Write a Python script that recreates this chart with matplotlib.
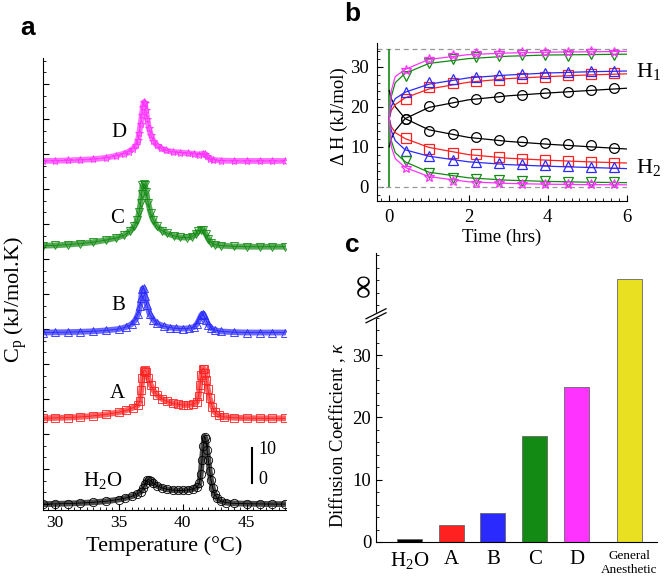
import matplotlib
matplotlib.use('Agg')
import matplotlib.pyplot as plt
from matplotlib.ticker import MultipleLocator, NullFormatter

plt.rcParams['font.family'] = ['Liberation Serif', 'DejaVu Serif']
plt.rcParams['mathtext.fontset'] = 'custom'
plt.rcParams['mathtext.rm'] = 'Liberation Serif'
plt.rcParams['mathtext.it'] = 'Liberation Serif:italic'

# ---- panel a: heat capacity profiles ----
t_h2o = [29.1, 30, 31, 32, 33, 34, 35, 35.5, 36, 36.4, 36.7, 36.9, 37.05, 37.2, 37.35, 37.5, 37.7, 38.0,
         38.4, 38.8, 39.2, 39.6, 40.0, 40.4, 40.8, 41.1, 41.3, 41.4, 41.5, 41.6, 41.7, 41.8, 41.9, 42.0,
         42.1, 42.2, 42.35, 42.5, 42.7, 43.0, 43.4, 44, 45, 46, 47, 48]
cp_h2o = [0, 0.05, 0.15, 0.3, 0.5, 0.8, 1.3, 1.7, 2.2, 2.8, 3.5, 4.5, 5.8, 6.8, 7.0, 6.6, 6.0, 5.2,
          4.6, 4.2, 4.0, 3.9, 3.9, 4.0, 4.3, 4.8, 6.0, 8.5, 12.5, 16.5, 19.3, 18.5, 15.5, 12.5,
          9.5, 7.0, 4.5, 2.8, 1.6, 0.8, 0.4, 0.2, 0.1, 0.05, 0, 0]

t_a = [29.1, 30, 31, 32, 33, 34, 35, 35.6, 36.1, 36.5, 36.65, 36.75, 36.85, 36.95, 37.05, 37.15, 37.3,
       37.5, 37.75, 38.0, 38.4, 38.8, 39.2, 39.6, 40.0, 40.4, 40.8, 41.1, 41.25, 41.35, 41.45, 41.55,
       41.65, 41.75, 41.85, 41.95, 42.1, 42.3, 42.5, 42.8, 43.2, 44, 45, 46, 47, 48]
cp_a = [0, 0.1, 0.2, 0.4, 0.7, 1.1, 1.7, 2.3, 3.0, 3.8, 5, 8, 11.5, 13.6, 13.8, 13.2, 11.5,
        9.5, 7.8, 6.6, 5.5, 4.8, 4.3, 4.0, 3.8, 3.8, 4.0, 4.6, 6.5, 9.5, 12.5, 14.2,
        14.2, 13, 11, 8.5, 5.8, 3.3, 1.8, 0.9, 0.4, 0.15, 0.05, 0, 0, 0]

t_b = [29.1, 30, 31, 32, 33, 34, 35, 35.6, 36.0, 36.3, 36.5, 36.65, 36.75, 36.85, 36.95, 37.05, 37.2,
       37.4, 37.7, 38.0, 38.5, 39, 39.5, 40, 40.5, 40.9, 41.1, 41.3, 41.45, 41.55, 41.65, 41.8, 42.0,
       42.2, 42.5, 43, 44, 45, 46, 47, 48]
cp_b = [0, 0.05, 0.1, 0.2, 0.35, 0.6, 1.0, 1.6, 2.4, 3.6, 5.2, 7.5, 10, 12.5, 12.6, 10.5, 7.8,
        5.4, 3.6, 2.6, 1.8, 1.4, 1.2, 1.1, 1.2, 1.6, 2.4, 3.8, 5.0, 5.4, 5.0, 3.7, 2.2,
        1.3, 0.7, 0.3, 0.1, 0, 0, 0, 0]

t_c = [29.1, 30, 31, 32, 33, 34, 34.8, 35.4, 35.9, 36.2, 36.45, 36.6, 36.7, 36.78, 36.85, 36.95, 37.05,
       37.15, 37.3, 37.5, 37.7, 38.0, 38.4, 38.8, 39.3, 39.8, 40.3, 40.7, 41.0, 41.2, 41.4, 41.6, 41.8,
       42.0, 42.2, 42.5, 43, 44, 45, 46, 47, 48]
cp_c = [0.3, 0.4, 0.6, 0.9, 1.3, 1.9, 2.5, 3.3, 4.5, 5.8, 7.5, 10, 12.5, 15, 17.5, 18, 17.5,
        15.5, 12.5, 9.5, 7.5, 5.8, 4.6, 3.8, 3.1, 2.7, 2.6, 2.8, 3.6, 4.4, 4.8, 4.8, 3.6,
        2.2, 1.2, 0.6, 0.3, 0.1, 0, 0, 0, 0]

t_d = [29.1, 30, 31, 32, 33, 34, 34.8, 35.4, 35.8, 36.1, 36.35, 36.5, 36.6, 36.7, 36.8, 36.88, 36.95,
       37.03, 37.12, 37.22, 37.35, 37.5, 37.7, 37.95, 38.3, 38.7, 39.2, 39.8, 40.4, 40.9, 41.3, 41.55,
       41.7, 41.9, 42.1, 42.4, 43, 44, 45, 46, 47, 48]
cp_d = [0, 0.05, 0.15, 0.3, 0.5, 0.9, 1.5, 2.1, 2.7, 3.5, 4.5, 6, 8, 10.5, 13, 15.5, 16.8,
        16.5, 14.5, 12, 9.5, 7.5, 5.8, 4.5, 3.6, 3.0, 2.6, 2.4, 2.2, 2.0, 1.8, 2.1,
        2.0, 1.3, 0.7, 0.3, 0.1, 0, 0, 0, 0, 0]

names_a = ['H$_2$O', 'A', 'B', 'C', 'D']

# ---- panel b: enthalpy vs time ----
t_pts = [0.42, 1.0, 1.6, 2.18, 2.77, 3.35, 3.93, 4.52, 5.1, 5.68]
h1_pink = [29.2, 31.8, 32.9, 33.5, 33.5, 33.6, 33.6, 33.6, 33.9, 33.6]
h1_green = [27.7, 31.0, 31.9, 32.3, 32.7, 32.8, 32.9, 32.7, 33.1, 32.9]
h1_blue = [23.6, 26.1, 26.8, 27.5, 27.9, 28.2, 28.3, 28.6, 28.9, 28.9]
h1_red = [22.0, 24.8, 25.8, 26.3, 26.7, 27.1, 27.5, 27.8, 28.1, 28.4]
h1_black = [17.0, 20.2, 21.2, 21.9, 22.5, 22.9, 23.3, 23.7, 24.2, 24.7]
h2_black = [17.0, 14.0, 13.2, 12.3, 11.7, 11.3, 11.0, 10.6, 10.3, 9.7]
h2_red = [12.2, 9.4, 8.5, 8.2, 7.5, 7.0, 6.7, 6.5, 6.25, 6.0]
h2_blue = [9.0, 7.7, 6.7, 6.2, 5.85, 5.6, 5.4, 5.25, 5.0, 5.0]
h2_green = [6.3, 3.3, 2.25, 1.8, 1.6, 1.4, 1.3, 1.25, 1.25, 1.2]
h2_pink = [4.75, 2.5, 1.4, 0.9, 0.85, 0.75, 0.75, 0.7, 0.6, 0.6]

t_fit = [0, 0.05, 0.15, 0.4, 1, 2, 3, 4, 5, 6]
fit_h1_pink = [17, 24, 27.5, 29.3, 31.8, 33.0, 33.4, 33.6, 33.7, 33.8]
fit_h1_green = [17, 22.5, 26, 28.3, 30.8, 32.0, 32.6, 32.9, 33.0, 33.1]
fit_h1_blue = [17, 20, 22, 23.6, 25.6, 27.2, 27.9, 28.4, 28.7, 28.9]
fit_h1_red = [17, 19, 20.5, 22.2, 24.4, 26.1, 27.0, 27.5, 27.9, 28.2]
fit_h1_black = [10, 12, 14, 17, 19.8, 21.7, 22.7, 23.4, 24.0, 24.6]
fit_h2_black = [24, 22, 20, 17, 14.2, 12.3, 11.3, 10.6, 10.0, 9.4]
fit_h2_red = [17, 15, 13.5, 12, 9.8, 8.0, 7.1, 6.6, 6.2, 5.9]
fit_h2_blue = [17, 14, 11.5, 9.2, 7.6, 6.2, 5.5, 5.1, 4.8, 4.5]
fit_h2_green = [17, 11.5, 8.5, 6.2, 3.6, 2.2, 1.6, 1.3, 1.1, 1.0]
fit_h2_pink = [17, 10, 7, 4.8, 2.5, 1.2, 0.8, 0.6, 0.5, 0.45]
h_max = 34.3

# ---- panel c: diffusion coefficient ----
labels_c = ['H$_2$O', 'A', 'B', 'C', 'D', 'General\nAnesthetic']
kappa = [0.4, 2.8, 4.7, 17.0, 24.9, 42.2]

black = 'black'
red = '#ff2020'
blue = '#2a2aff'
green = '#138a13'
pink = '#ff33ff'
yellow = '#e8e020'

fig = plt.figure(figsize=(6.64, 5.78), dpi=100)

# ================= panel a =================
ax = fig.add_axes([0.0643, 0.1176, 0.367, 0.782])
offset = 24.5
curves = [(t_h2o, cp_h2o, black, 'o'), (t_a, cp_a, red, 's'), (t_b, cp_b, blue, '^'),
          (t_c, cp_c, green, 'v'), (t_d, cp_d, pink, '*')]
for i, (tt, cc, col, mk) in enumerate(curves):
    yy = [v + i * offset for v in cc]
    ax.plot(tt, yy, color=col, lw=4.2, alpha=0.7, solid_capstyle='round')
    ax.plot(tt, yy, color=col, lw=0.6, marker=mk, ms=6, mfc='none', mec=col, mew=0.6)

label_pos = [(33.75, 6.6), (34.85, 31.7), (35.0, 56.6), (34.85, 81.7), (35.0, 106)]
for (x, y), nm in zip(label_pos, names_a):
    ax.text(x, y, nm, fontsize=15, ha='center', va='center')

# scale bar
ax.plot([45.4, 45.4], [6, 16], color='black', lw=1.5)
ax.text(45.9, 15.5, '10', fontsize=13, va='center')
ax.text(45.9, 7.0, '0', fontsize=13, va='center')

ax.set_xlim(29.05, 48.1)
ax.set_ylim(-1.7, 127.4)
ax.spines['top'].set_visible(False)
ax.spines['right'].set_visible(False)
ax.xaxis.set_major_locator(MultipleLocator(5))
ax.xaxis.set_minor_locator(MultipleLocator(0.5))
ax.yaxis.set_major_locator(MultipleLocator(10))
ax.yaxis.set_minor_locator(MultipleLocator(10 / 3))
ax.yaxis.set_major_formatter(NullFormatter())
ax.tick_params(which='both', direction='in', labelsize=12.5)
ax.tick_params(which='major', length=4)
ax.tick_params(which='minor', length=2)
ax.set_xlabel('Temperature (°C)', fontsize=16, labelpad=4)
ax.set_ylabel('C$_\\mathrm{p}$ (kJ/mol.K)', fontsize=16)
ax.yaxis.set_label_coords(-0.055, 0.465)

# ================= panel b =================
bx = fig.add_axes([0.5678, 0.6522, 0.3765, 0.2734])
bx.axhline(0, color='#999999', ls='--', lw=0.9, dashes=(4, 3))
bx.axhline(h_max, color='#999999', ls='--', lw=0.9, dashes=(4, 3))
bx.vlines(0, 0, h_max, color=green, lw=1.2)
series_b = [(fit_h1_black, h1_black, black, 'o'), (fit_h2_black, h2_black, black, 'o'),
            (fit_h1_red, h1_red, red, 's'), (fit_h2_red, h2_red, red, 's'),
            (fit_h1_blue, h1_blue, blue, '^'), (fit_h2_blue, h2_blue, blue, '^'),
            (fit_h1_green, h1_green, green, 'v'), (fit_h2_green, h2_green, green, 'v'),
            (fit_h1_pink, h1_pink, pink, '*'), (fit_h2_pink, h2_pink, pink, '*')]
for fit, pts, col, mk in series_b:
    bx.plot(t_fit, fit, color=col, lw=0.9)
    bx.plot(t_pts, pts, ls='none', marker=mk, ms=7, mfc='none', mec=col, mew=0.9)
bx.set_xlim(-0.31, 6.0)
bx.set_ylim(-3.6, 35.9)
bx.spines['top'].set_visible(False)
bx.spines['right'].set_visible(False)
bx.xaxis.set_major_locator(MultipleLocator(2))
bx.xaxis.set_minor_locator(MultipleLocator(0.2))
bx.yaxis.set_major_locator(MultipleLocator(10))
bx.yaxis.set_minor_locator(MultipleLocator(2))
bx.tick_params(which='both', direction='in', labelsize=13.5, pad=6)
bx.tick_params(which='major', length=4)
bx.tick_params(which='minor', length=2)
bx.set_xlabel('Time (hrs)', fontsize=13.5, labelpad=2)
bx.set_ylabel('Δ H (kJ/mol)', fontsize=13.5)
bx.yaxis.set_label_coords(-0.115, 0.54)
fig.text(0.958, 1 - 72 / 578, 'H$_1$', fontsize=16, ha='left', va='center')
fig.text(0.958, 1 - 168 / 578, 'H$_2$', fontsize=16, ha='left', va='center')

# ================= panel c =================
cx = fig.add_axes([0.5663, 0.0623, 0.4232, 0.5])
pos = [0, 1, 2, 3, 4, 5.27]
colors_c = [black, red, blue, green, pink, yellow]
cx.bar(pos, kappa, width=0.6, color=colors_c, edgecolor='#666666', linewidth=0.6)
cx.set_xlim(-0.8, 5.93)
cx.set_ylim(0, 46.4)
cx.spines['top'].set_visible(False)
cx.spines['right'].set_visible(False)
cx.set_xticks(pos)
cx.set_xticklabels(labels_c)
for lab in cx.get_xticklabels()[:5]:
    lab.set_fontsize(15)
cx.get_xticklabels()[5].set_fontsize(9.5)
cx.tick_params(axis='x', length=0, pad=6)
cx.yaxis.set_major_locator(MultipleLocator(10))
cx.yaxis.set_minor_locator(MultipleLocator(2))
cx.set_yticks([0, 10, 20, 30])
cx.tick_params(axis='y', which='both', direction='in', labelsize=13.5)
cx.tick_params(axis='y', which='major', length=4)
cx.tick_params(axis='y', which='minor', length=2)
cx.set_ylabel('Diffusion Coefficient , $\\mathit{\\kappa}$', fontsize=13.5)
cx.yaxis.set_label_coords(-0.1, 0.37)

# axis break marks
yb = 36.0 / 46.4
dx = 10 / 281
dy = 5 / 289
gap = 4 / 289
cx.fill([-dx, dx, dx, -dx], [yb - dy, yb + dy, yb + dy + gap, yb - dy + gap],
        color='white', transform=cx.transAxes, clip_on=False, zorder=5)
for off in (0, gap):
    cx.plot([-dx, dx], [yb - dy + off, yb + dy + off], color='black', lw=0.9,
            transform=cx.transAxes, clip_on=False, zorder=6)
cx.text(-0.04, 41.2, '∞', fontsize=24, rotation=90, ha='center', va='center',
        transform=cx.get_yaxis_transform())

# panel letters
for x, y, s in [(28, 28, 'a'), (352, 14, 'b'), (352, 245, 'c')]:
    fig.text(x / 664, 1 - y / 578, s, fontsize=19, fontweight='bold',
             family='Liberation Sans', ha='center', va='center')

fig.savefig('out.png', dpi=100)
